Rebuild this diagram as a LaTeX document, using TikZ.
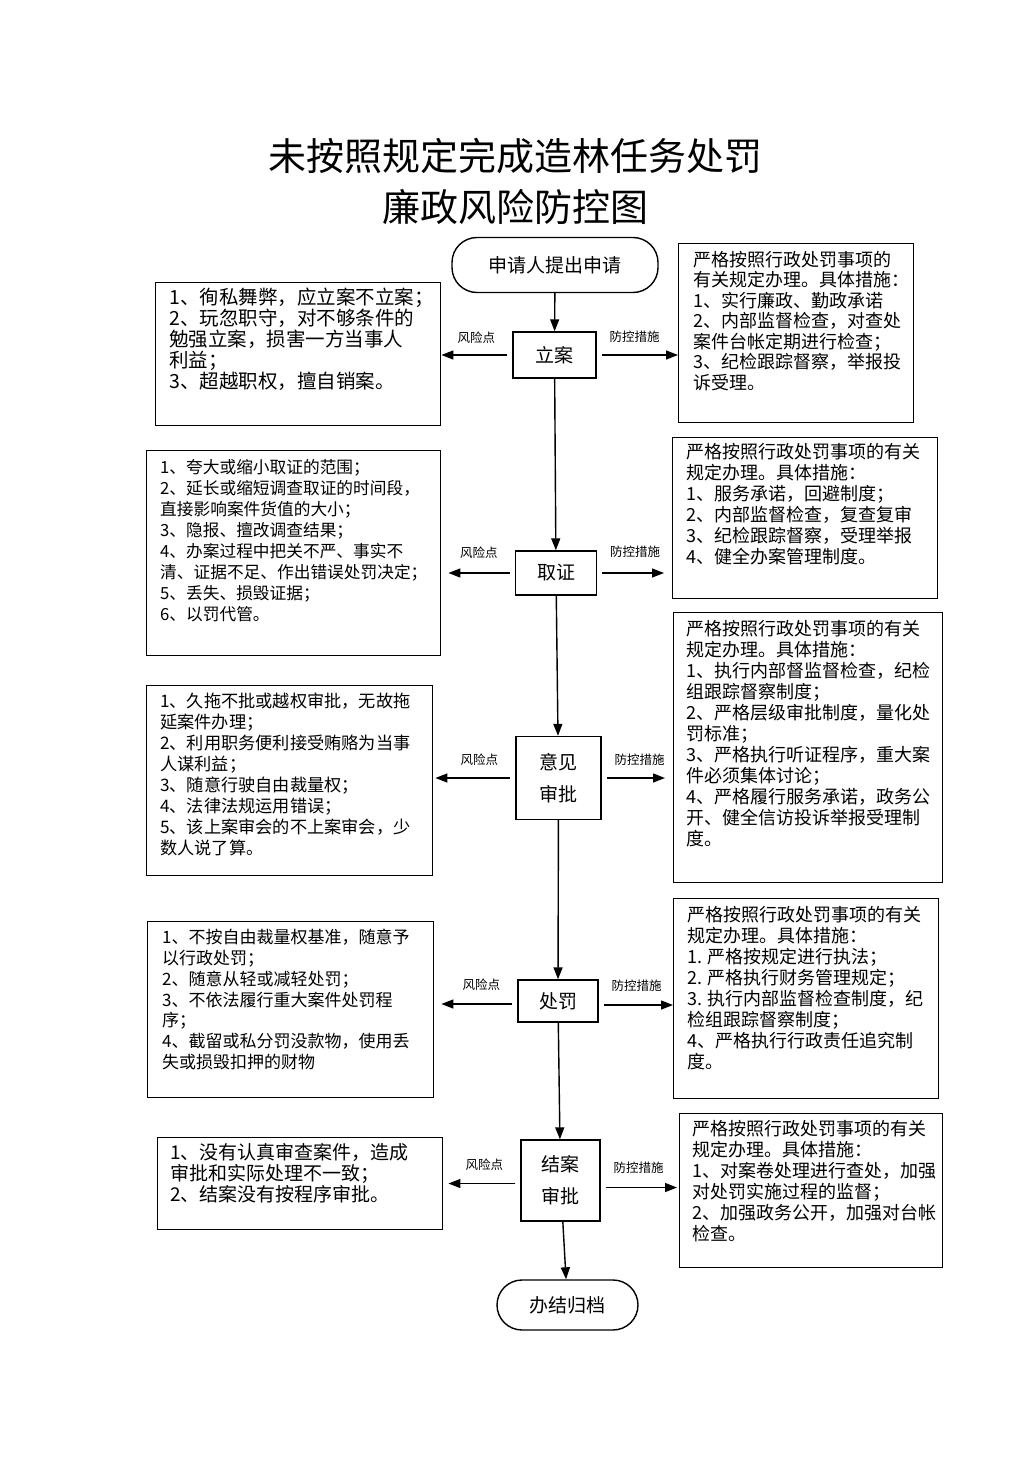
\documentclass[tikz,border=0pt]{standalone}
\usepackage{fontspec}
\setmainfont{Noto Sans CJK SC}
\usetikzlibrary{arrows.meta, positioning}
\newcommand\fs[2]{\fontsize{#1}{#2}\selectfont}
\tikzset{
    flowbox/.style={draw, line width=1.4pt, inner sep=0pt, font=\fs{19}{32}, align=center},
    termbox/.style={flowbox, rounded corners=25pt},
    sidebox/.style={draw, line width=1.4pt, inner sep=0pt, anchor=north west},
    boxtext/.style={inner sep=0pt, anchor=north west, align=left},
    arr/.style={-{Triangle[length=12pt,width=9pt]}, line width=1.4pt},
    sidearr/.style={arr, shorten <=5pt},
    lbl/.style={inner sep=0pt, font=\fs{12.5}{14}}
}
\begin{document}
\begin{tikzpicture}[x=1pt, y=-1pt]
    \useasboundingbox[fill=white] (0,0) rectangle (1033,1461);

    % Title
    \node[font=\fs{38}{51}, align=center] (title) at (515,181) {未按照规定完成造林任务处罚\\廉政风险防控图};

    % Main flow
    \node[termbox, minimum width=206pt, minimum height=55pt] (start) at (555,265) {申请人提出申请};
    \node[flowbox, minimum width=83pt, minimum height=46pt] (lian) at (554.5,355) {立案};
    \node[flowbox, minimum width=81pt, minimum height=44pt] (quzheng) at (556,573) {取证};
    \node[flowbox, minimum width=85pt, minimum height=83pt] (yijian) at (558.5,778) {意见\\审批};
    \node[flowbox, minimum width=80pt, minimum height=42pt] (chufa) at (558,1001) {处罚};
    \node[flowbox, minimum width=79pt, minimum height=81pt] (jiean) at (560.5,1180.5) {结案\\审批};
    \node[termbox, minimum width=141pt, minimum height=50pt] (end) at (567.5,1305) {办结归档};

    \draw[arr] (start) -- (lian);
    \draw[arr] (lian) -- (quzheng);
    \draw[arr] (quzheng) -- (yijian);
    \draw[arr] (yijian) -- (chufa);
    \draw[arr] (chufa) -- (jiean);
    \draw[arr] (jiean) -- (end);

    % Risk points (left)
    \node[sidebox, minimum width=285pt, minimum height=143pt] (risk1) at (155,282) {};
    \node[boxtext, font=\fs{19.5}{21}] at (169,288) {1、徇私舞弊，应立案不立案；\\2、玩忽职守，对不够条件的\\勉强立案，损害一方当事人\\利益；\\3、超越职权，擅自销案。};

    \node[sidebox, minimum width=294pt, minimum height=205pt] (risk2) at (146,450) {};
    \node[boxtext, font=\fs{16.7}{21}] at (160,459) {1、夸大或缩小取证的范围；\\2、延长或缩短调查取证的时间段，\\直接影响案件货值的大小；\\3、隐报、擅改调查结果；\\4、办案过程中把关不严、事实不\\清、证据不足、作出错误处罚决定；\\5、丢失、损毁证据；\\6、以罚代管。};

    \node[sidebox, minimum width=286pt, minimum height=190pt] (risk3) at (146,685) {};
    \node[boxtext, font=\fs{17.2}{20.9}] at (160,693) {1、久拖不批或越权审批，无故拖\\延案件办理；\\2、利用职务便利接受贿赂为当事\\人谋利益；\\3、随意行驶自由裁量权；\\4、法律法规运用错误；\\5、该上案审会的不上案审会，少\\数人说了算。};

    \node[sidebox, minimum width=286pt, minimum height=176pt] (risk4) at (147,921) {};
    \node[boxtext, font=\fs{17}{20.8}] at (162,929) {1、不按自由裁量权基准，随意予\\以行政处罚；\\2、随意从轻或减轻处罚；\\3、不依法履行重大案件处罚程\\序；\\4、截留或私分罚没款物，使用丢\\失或损毁扣押的财物};

    \node[sidebox, minimum width=285pt, minimum height=92pt] (risk5) at (157,1137) {};
    \node[boxtext, font=\fs{19}{21}] at (170,1143) {1、没有认真审查案件，造成\\审批和实际处理不一致；\\2、结案没有按程序审批。};

    % Control measures (right)
    \node[sidebox, minimum width=235pt, minimum height=179pt] (ctrl1) at (678,243) {};
    \node[boxtext, font=\fs{18}{20.5}] at (693,251) {严格按照行政处罚事项的\\有关规定办理。具体措施：\\1、实行廉政、勤政承诺\\2、内部监督检查，对查处\\案件台帐定期进行检查；\\3、纪检跟踪督察，举报投\\诉受理。};

    \node[sidebox, minimum width=265pt, minimum height=161pt] (ctrl2) at (672,437) {};
    \node[boxtext, font=\fs{18}{21}] at (686,443) {严格按照行政处罚事项的有关\\规定办理。具体措施：\\1、服务承诺，回避制度；\\2、内部监督检查，复查复审\\3、纪检跟踪督察，受理举报\\4、健全办案管理制度。};

    \node[sidebox, minimum width=269pt, minimum height=270pt] (ctrl3) at (673,612) {};
    \node[boxtext, font=\fs{18}{21}] at (686,620) {严格按照行政处罚事项的有关\\规定办理。具体措施：\\1、执行内部督监督检查，纪检\\组跟踪督察制度；\\2、严格层级审批制度，量化处\\罚标准；\\3、严格执行听证程序，重大案\\件必须集体讨论；\\4、严格履行服务承诺，政务公\\开、健全信访投诉举报受理制\\度。};

    \node[sidebox, minimum width=265pt, minimum height=200pt] (ctrl4) at (673,898) {};
    \node[boxtext, font=\fs{18}{21}] at (687,906) {严格按照行政处罚事项的有关\\规定办理。具体措施：\\1. 严格按规定进行执法；\\2. 严格执行财务管理规定；\\3. 执行内部监督检查制度，纪\\检组跟踪督察制度；\\4、严格执行行政责任追究制\\度。};

    \node[sidebox, minimum width=263pt, minimum height=154pt] (ctrl5) at (679,1113) {};
    \node[boxtext, font=\fs{18}{21}] at (692,1120) {严格按照行政处罚事项的有关\\规定办理。具体措施：\\1、对案卷处理进行查处，加强\\对处罚实施过程的监督；\\2、加强政务公开，加强对台帐\\检查。};

    % Side arrows
    \draw[sidearr] (lian.west) -- (lian.west -| risk1.east);
    \draw[sidearr] (lian.east) -- (lian.east -| ctrl1.west);
    \draw[sidearr, shorten >=7pt] (quzheng.west) -- (quzheng.west -| risk2.east);
    \draw[sidearr, shorten >=8pt] (quzheng.east) -- (quzheng.east -| ctrl2.west);
    \draw[sidearr, shorten >=2pt] (yijian.west) -- (yijian.west -| risk3.east);
    \draw[sidearr, shorten >=8pt] (yijian.east) -- (yijian.east -| ctrl3.west);
    \draw[sidearr, shorten >=7pt] ([yshift=-3pt]chufa.west) -- ([yshift=-3pt]chufa.west -| risk4.east);
    \draw[sidearr] ([yshift=-4pt]chufa.east) -- ([yshift=-4pt]chufa.east -| ctrl4.west);
    \draw[sidearr, shorten >=5pt] ([yshift=-3pt]jiean.west) -- ([yshift=-3pt]jiean.west -| risk5.east);
    \draw[sidearr, shorten >=2pt] ([yshift=-7pt]jiean.east) -- ([yshift=-7pt]jiean.east -| ctrl5.west);

    % Arrow labels
    \foreach \n/\y in {lian/338, quzheng/553, yijian/760, chufa/985, jiean/1165} {
        \node[lbl] at (\n.west |- 0,\y) [xshift=-36pt] {风险点};
    }
    \foreach \n/\y in {lian/337, quzheng/552, yijian/760, chufa/986, jiean/1168} {
        \node[lbl] at (\n.east |- 0,\y) [xshift=38pt] {防控措施};
    }
\end{tikzpicture}
\end{document}
